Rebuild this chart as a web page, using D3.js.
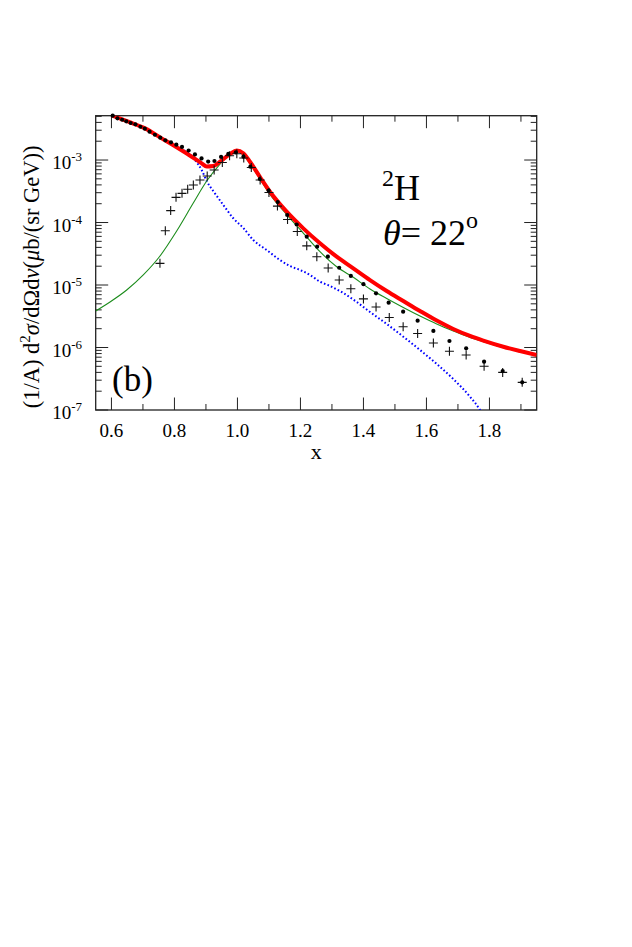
<!DOCTYPE html>
<html><head><meta charset="utf-8">
<script src="https://cdn.jsdelivr.net/npm/d3@7"></script>
<style>html,body{margin:0;padding:0;background:#fff;}svg{display:block;}</style>
</head><body>
<svg id="chart" width="632" height="947"></svg>
<script>
// ---- data ----
const xTickValues = [0.6, 0.8, 1.0, 1.2, 1.4, 1.6, 1.8];
const yTickExponents = [-7, -6, -5, -4, -3];

// data set 1 (filled dots)
const dotX = [0.604,0.619,0.634,0.647,0.661,0.676,0.692,0.706,0.721,0.738,0.755,0.771,0.789,0.806,0.824,0.845,0.865,0.886,0.907,0.927,0.948,0.971,0.995,1.019,1.041,1.071,1.099,1.128,1.158,1.188,1.220,1.253,1.287,1.323,1.360,1.400,1.440,1.480,1.526,1.572,1.622,1.673,1.726,1.783,1.842,1.904];
const dotY = [5.12e-3,4.64e-3,4.41e-3,4.16e-3,3.91e-3,3.72e-3,3.41e-3,3.17e-3,2.84e-3,2.54e-3,2.28e-3,2.07e-3,1.92e-3,1.76e-3,1.62e-3,1.42e-3,1.23e-3,1.06e-3,9.46e-4,9.64e-4,1.12e-3,1.25e-3,1.33e-3,1.13e-3,7.82e-4,4.97e-4,3.25e-4,2.13e-4,1.32e-4,9.29e-5,5.93e-5,4.1e-5,2.84e-5,1.89e-5,1.40e-5,1.03e-5,7.36e-6,5.21e-6,3.74e-6,2.69e-6,1.84e-6,1.27e-6,9.7e-7,5.93e-7,4.21e-7,2.77e-7];

// data set 2 (crosses)
const crossX = [0.754,0.771,0.788,0.805,0.824,0.842,0.860,0.881,0.904,0.926,0.952,0.975,0.998,1.020,1.044,1.072,1.100,1.127,1.159,1.190,1.220,1.252,1.288,1.323,1.360,1.400,1.440,1.482,1.526,1.572,1.622,1.673,1.726,1.783,1.842,1.904];
const crossY = [2.22e-5,7.4e-5,1.55e-4,2.53e-4,2.93e-4,3.4e-4,3.98e-4,4.79e-4,5.55e-4,6.92e-4,9.12e-4,1.17e-3,1.26e-3,1.08e-3,7.59e-4,4.79e-4,3.02e-4,1.83e-4,1.12e-4,7.2e-5,4.23e-5,2.84e-5,1.87e-5,1.2e-5,8.7e-6,6.0e-6,4.45e-6,3.02e-6,2.15e-6,1.68e-6,1.18e-6,8.7e-7,7.59e-7,5.0e-7,4.0e-7,2.77e-7];

// total (red thick)
const totalX = [0.603,0.6535,0.7065,0.7595,0.8122,0.8548,0.8865,0.9024,0.9233,0.9446,0.9763,0.9976,1.0186,1.0398,1.0716,1.1033,1.1563,1.209,1.262,1.315,1.3678,1.4208,1.4738,1.5265,1.5795,1.6325,1.6852,1.7383,1.7805,1.844,1.897,1.95];
const totalY = [5.12e-3,4.10e-3,3.21e-3,2.22e-3,1.54e-3,1.13e-3,8.85e-4,7.87e-4,8.02e-4,9.4e-4,1.25e-3,1.42e-3,1.28e-3,9.4e-4,5.35e-4,3.11e-4,1.49e-4,8.07e-5,4.65e-5,2.84e-5,1.85e-5,1.2e-5,8.02e-6,5.55e-6,3.84e-6,2.7e-6,1.98e-6,1.53e-6,1.29e-6,1.03e-6,8.79e-7,7.59e-7];

// quasi-elastic (green thin)
const qeX = [0.55,0.5954,0.6484,0.7011,0.7541,0.8071,0.8598,0.9024,0.9446,0.9763,0.9976,1.0186,1.0398,1.0716,1.1033,1.1563,1.209,1.262,1.315,1.3678,1.4208,1.4738,1.5265,1.5795,1.6325,1.6852,1.7383,1.7805,1.844,1.897,1.95];
const qeY = [3.84e-6,5.35e-6,8.32e-6,1.45e-5,2.91e-5,7.31e-5,2.05e-4,4.61e-4,8.63e-4,1.25e-3,1.39e-3,1.2e-3,8.63e-4,4.97e-4,2.81e-4,1.34e-4,6.79e-5,3.41e-5,1.96e-5,1.33e-5,8.63e-6,6.08e-6,4.37e-6,3.19e-6,2.38e-6,1.84e-6,1.45e-6,1.24e-6,1.0e-6,8.63e-7,7.45e-7];

// inelastic (blue dotted)
const inelX = [0.603,0.6535,0.7065,0.7595,0.8122,0.844,0.8652,0.8865,0.9024,0.9233,0.9551,0.9868,1.0186,1.0503,1.0929,1.1351,1.1668,1.1986,1.2303,1.262,1.2938,1.336,1.3786,1.4208,1.4738,1.5265,1.5795,1.6325,1.6852,1.7383,1.77,1.79];
const inelY = [5.12e-3,4.1e-3,3.21e-3,2.22e-3,1.56e-3,1.29e-3,1.0e-3,6.92e-4,4.61e-4,3.19e-4,1.91e-4,1.17e-4,8.17e-5,5.25e-5,3.63e-5,2.51e-5,2.01e-5,1.74e-5,1.45e-5,1.13e-5,9.64e-6,7.45e-6,5.35e-6,3.7e-6,2.38e-6,1.49e-6,9.12e-7,5.45e-7,3.13e-7,1.63e-7,1.0e-7,6.5e-8];

// ---- layout ----
const svg = d3.select('#chart');
const L = 95.7, R = 536.7, T = 115.7, B = 410;
const x = d3.scaleLinear().domain([0.55, 1.95]).range([L, R]);
const y = d3.scaleLog().domain([1e-7, 5.12e-3]).range([B, T]);
const font = '"Liberation Serif", "Times New Roman", Times, serif';

svg.append('defs').append('clipPath').attr('id','clip')
  .append('rect').attr('x',L).attr('y',T).attr('width',R-L).attr('height',B-T);

// ticks (inward on all sides)
const majLen = 12.5, minLen = 6;
const g = svg.append('g').attr('stroke','#222').attr('stroke-width',1);
const xMinor = d3.range(0.6, 1.95, 0.1).map(v => +v.toFixed(2)).filter(v => !xTickValues.some(t => Math.abs(t - v) < 1e-6));
xTickValues.forEach(v => {
  g.append('line').attr('x1',x(v)).attr('x2',x(v)).attr('y1',B).attr('y2',B-majLen);
  g.append('line').attr('x1',x(v)).attr('x2',x(v)).attr('y1',T).attr('y2',T+majLen);
});
xMinor.forEach(v => {
  g.append('line').attr('x1',x(v)).attr('x2',x(v)).attr('y1',B).attr('y2',B-minLen);
  g.append('line').attr('x1',x(v)).attr('x2',x(v)).attr('y1',T).attr('y2',T+minLen);
});
const yMajor = yTickExponents.map(e => Math.pow(10, e));
const yMinor = [];
yTickExponents.forEach(e => { for (let k = 2; k <= 9; k++) { const v = k * Math.pow(10, e); if (v <= 5.12e-3) yMinor.push(v); } });
yMajor.forEach(v => {
  g.append('line').attr('x1',L).attr('x2',L+majLen).attr('y1',y(v)).attr('y2',y(v));
  g.append('line').attr('x1',R).attr('x2',R-majLen).attr('y1',y(v)).attr('y2',y(v));
});
yMinor.forEach(v => {
  g.append('line').attr('x1',L).attr('x2',L+minLen).attr('y1',y(v)).attr('y2',y(v));
  g.append('line').attr('x1',R).attr('x2',R-minLen).attr('y1',y(v)).attr('y2',y(v));
});

// frame
svg.append('rect').attr('x',L).attr('y',T).attr('width',R-L).attr('height',B-T)
  .attr('fill','none').attr('stroke','#222').attr('stroke-width',1.3);

// tick labels
svg.append('g').selectAll('text').data(xTickValues).join('text')
  .attr('x', d => x(d)).attr('y', 437).attr('text-anchor','middle')
  .attr('font-family', font).attr('font-size', 19).attr('fill','#000')
  .text(d => d.toFixed(1));
const yl = svg.append('g').selectAll('text').data(yTickExponents).join('text')
  .attr('x', 82).attr('y', e => y(Math.pow(10, e)) + 9).attr('text-anchor','end')
  .attr('font-family', font).attr('font-size', 19).attr('fill','#000');
yl.append('tspan').text('10');
yl.append('tspan').attr('font-size', 13).attr('dy', -8).text(e => '-' + Math.abs(e));

// axis titles
svg.append('text').attr('x', (L+R)/2).attr('y', 459).attr('text-anchor','middle')
  .attr('font-family', font).attr('font-size', 22).text('x');
const yt = svg.append('text').attr('transform', `translate(38.5,${(T+B)/2 + 14}) rotate(-90)`)
  .attr('text-anchor','middle').attr('font-family', font).attr('font-size', 22.5);
yt.append('tspan').text('(1/A) d');
yt.append('tspan').attr('font-size', 15).attr('dy', -8.5).text('2');
yt.append('tspan').attr('font-style','italic').attr('dy', 8.5).text('σ');
yt.append('tspan').text('/dΩd');
yt.append('tspan').attr('font-style','italic').text('ν');
yt.append('tspan').text('(');
yt.append('tspan').attr('font-style','italic').text('μ');
yt.append('tspan').text('b/(sr GeV))');

// curves
const line = (xs, ys) => d3.line().curve(d3.curveMonotoneX)
  .x(i => x(xs[i])).y(i => y(ys[i]))(d3.range(xs.length));
const cg = svg.append('g').attr('clip-path','url(#clip)');
cg.append('path').attr('d', line(inelX, inelY)).attr('fill','none')
  .attr('stroke','#0000ff').attr('stroke-width',2).attr('stroke-dasharray','1.6,2.2');
cg.append('path').attr('d', line(qeX, qeY)).attr('fill','none')
  .attr('stroke','#1c8c1c').attr('stroke-width',1.1);
cg.append('path').attr('d', line(totalX, totalY)).attr('fill','none')
  .attr('stroke','#ff0000').attr('stroke-width',4).attr('stroke-linejoin','round');

// data points
const cs = 4.5;
svg.append('g').selectAll('path').data(d3.range(crossX.length)).join('path')
  .attr('d', i => { const cx = x(crossX[i]), cy = y(crossY[i]);
    return `M${cx-cs},${cy}H${cx+cs}M${cx},${cy-cs}V${cy+cs}`; })
  .attr('stroke','#111').attr('stroke-width',1.1).attr('fill','none');
svg.append('g').selectAll('circle').data(d3.range(dotX.length)).join('circle')
  .attr('cx', i => x(dotX[i])).attr('cy', i => y(dotY[i])).attr('r', 2.1).attr('fill','#000');

// annotations
const a1 = svg.append('text').attr('x', 382).attr('y', 200).attr('font-family', font).attr('font-size', 36);
a1.append('tspan').attr('font-size', 24).attr('dy', -14).text('2');
a1.append('tspan').attr('dy', 14).text('H');
const a2 = svg.append('text').attr('x', 383).attr('y', 245).attr('font-family', font).attr('font-size', 36);
a2.append('tspan').attr('font-style','italic').text('θ');
a2.append('tspan').text('= 22');
a2.append('tspan').attr('font-size', 24).attr('dy', -17).text('o');
svg.append('text').attr('x', 112).attr('y', 391).attr('font-family', font).attr('font-size', 35).text('(b)');
</script>
</body></html>
